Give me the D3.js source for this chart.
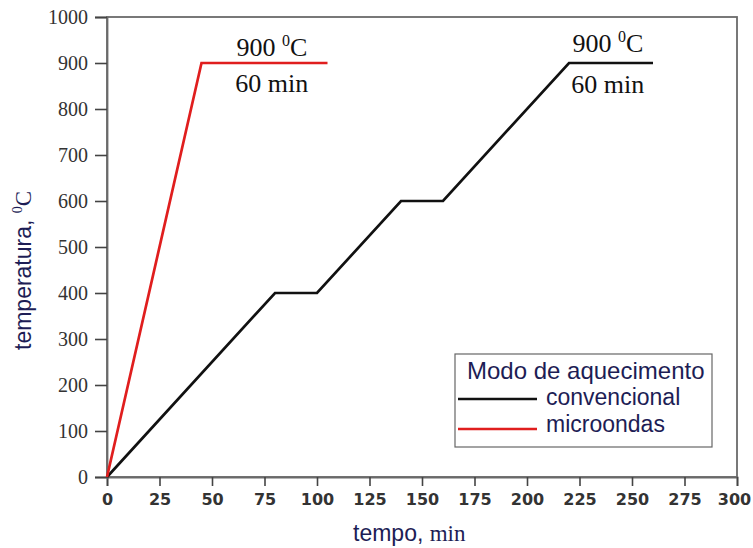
<!DOCTYPE html>
<html>
<head>
<meta charset="utf-8">
<script src="https://cdn.jsdelivr.net/npm/d3@7"></script>
<style>
body { margin: 0; background: #fff; }
.xax .tick text { font-family: "DejaVu Sans", sans-serif; font-weight: bold; font-size: 16px; fill: #333; }
.yax .tick text { font-family: "Liberation Serif", "Times New Roman", serif; font-size: 20px; fill: #333; }
.ann { font-family: "Liberation Serif", "Times New Roman", serif; font-size: 26px; fill: #111; }
.lbl { font-family: "Liberation Sans", Arial, sans-serif; font-size: 23px; fill: #1d1d55; }
</style>
</head>
<body>
<script>
// data
var xTicks = [0, 25, 50, 75, 100, 125, 150, 175, 200, 225, 250, 275, 300];
var yTicks = [0, 100, 200, 300, 400, 500, 600, 700, 800, 900, 1000];
var convTime = [0, 80, 100, 140, 160, 220, 260];
var convTemp = [0, 400, 400, 600, 600, 900, 900];
var microTime = [0, 45, 105];
var microTemp = [0, 900, 900];
var seriesNames = ["convencional", "microondas"];
var seriesColors = ["#111111", "#e01e1e"];

var width = 753, height = 548;
var mLeft = 107, mRight = 737, mTop = 17, mBottom = 477;

var svg = d3.select("body").append("svg")
    .attr("width", width)
    .attr("height", height);

var x = d3.scaleLinear().domain([0, 300]).range([mLeft, mRight]);
var y = d3.scaleLinear().domain([0, 1000]).range([mBottom, mTop]);

// frame
svg.append("rect")
    .attr("x", mLeft).attr("y", mTop)
    .attr("width", mRight - mLeft).attr("height", mBottom - mTop)
    .attr("fill", "none").attr("stroke", "#6a6a6a").attr("stroke-width", 1.8);

var xg = svg.append("g").attr("class", "xax")
    .attr("transform", "translate(0," + mBottom + ")")
    .call(d3.axisBottom(x).tickValues(xTicks).tickFormat(d3.format("d")).tickSize(9).tickPadding(8));
// last label sits against the page edge
xg.selectAll(".tick text").filter(function(d) { return d === 300; }).attr("dx", -3);

svg.append("g").attr("class", "yax")
    .attr("transform", "translate(" + mLeft + ",0)")
    .call(d3.axisLeft(y).tickValues(yTicks).tickFormat(d3.format("d")).tickSize(12).tickPadding(7));
svg.selectAll(".domain").attr("stroke", "#6a6a6a").attr("stroke-width", 1.8);
svg.selectAll(".tick line").attr("stroke", "#444").attr("stroke-width", 1.6);

var line = d3.line().x(function(d) { return x(d[0]); }).y(function(d) { return y(d[1]); });

var conv = d3.zip(convTime, convTemp);
var micro = d3.zip(microTime, microTemp);

svg.append("path").datum(conv)
    .attr("d", line).attr("fill", "none")
    .attr("stroke", seriesColors[0]).attr("stroke-width", 2.7);
svg.append("path").datum(micro)
    .attr("d", line).attr("fill", "none")
    .attr("stroke", seriesColors[1]).attr("stroke-width", 2.7);

// annotations above/below the holds
function note(t0, above, below) {
    var cx = x(t0), ly = y(900);
    var t = svg.append("text").attr("class", "ann")
        .attr("x", cx).attr("y", ly - above).attr("text-anchor", "middle");
    t.append("tspan").text("900 ");
    t.append("tspan").attr("font-size", "16px").attr("dy", -10).text("0");
    t.append("tspan").attr("dy", 10).text("C");
    svg.append("text").attr("class", "ann")
        .attr("x", cx).attr("y", ly + below).attr("text-anchor", "middle")
        .text("60 min");
}
note(78.5, 7, 29);
note(238.5, 11, 30);

// axis labels
var xl = svg.append("text").attr("class", "lbl")
    .attr("x", 353).attr("y", 541);
xl.append("tspan").text("tempo, ");
xl.append("tspan").attr("font-family", "Liberation Serif, serif").text("min");

var yl = svg.append("text").attr("class", "lbl")
    .attr("transform", "translate(31,350) rotate(-90)");
yl.append("tspan").text("temperatura, ");
yl.append("tspan").attr("font-family", "Liberation Serif, serif").attr("font-size", "14px").attr("dy", -9).text("0");
yl.append("tspan").attr("font-family", "Liberation Serif, serif").attr("dy", 9).text("C");

// legend
var lg = svg.append("g").attr("transform", "translate(455,354)");
lg.append("rect").attr("width", 257).attr("height", 93)
    .attr("fill", "#fff").attr("stroke", "#666").attr("stroke-width", 1.2);
lg.append("text").attr("class", "lbl").attr("x", 12).attr("y", 25)
    .style("font-size", "24px").text("Modo de aquecimento");
lg.selectAll(".item").data(seriesNames).enter().append("g")
    .each(function(d, i) {
        var g = d3.select(this);
        g.append("line").attr("x1", 3).attr("x2", 82)
            .attr("y1", 45 + i * 30).attr("y2", 45 + i * 30)
            .attr("stroke", seriesColors[i]).attr("stroke-width", 2.7);
        g.append("text").attr("class", "lbl").attr("x", 91).attr("y", 51 + i * 27).text(d);
    });
</script>
</body>
</html>
